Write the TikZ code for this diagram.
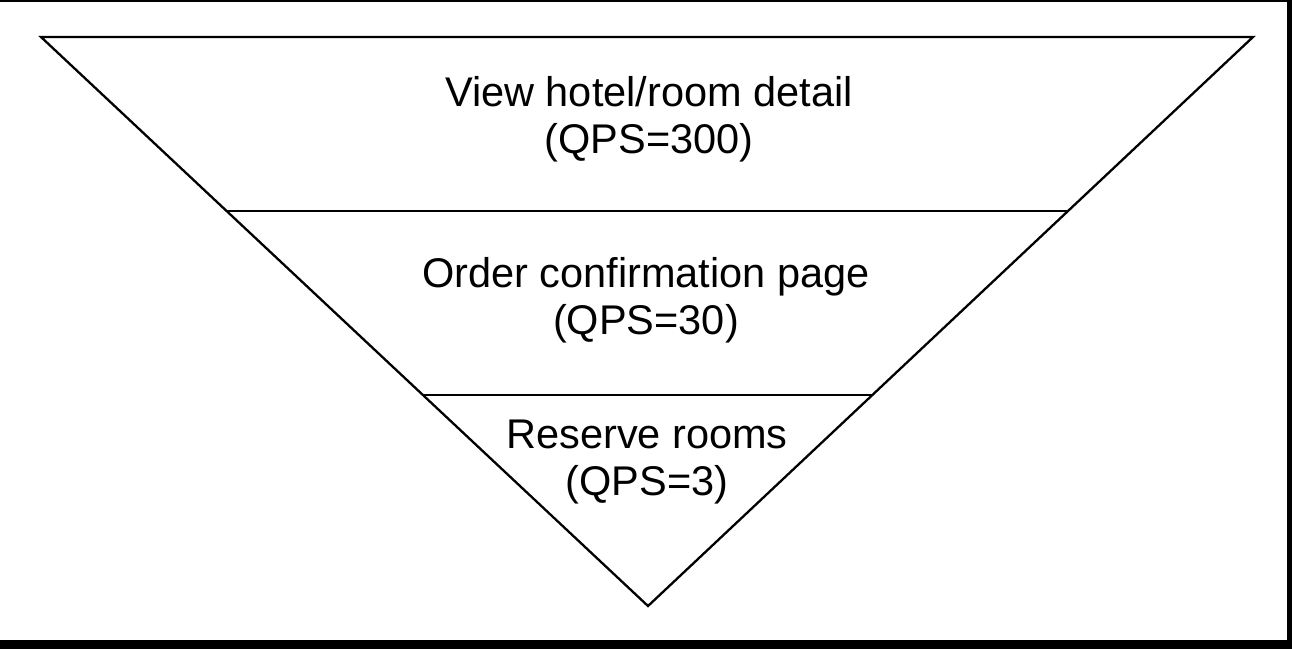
\documentclass[tikz,border=0pt]{standalone}
\usepackage{fontspec}
\setmainfont{Liberation Sans}
\begin{document}
\begin{tikzpicture}[x=1pt,y=-1pt,
  edge/.style={line width=2.3pt,line join=miter},
  label/.style={align=center,inner sep=0pt,font=\fontsize{41.5}{47}\selectfont}]
\useasboundingbox (0,0) rectangle (1292,649);
\fill[white] (0,0) rectangle (1292,649);
% frame
\fill[black] (0,0) rectangle (1292,1.5);
\fill[black] (0,640) rectangle (1292,649);
\fill[black] (1287,0) rectangle (1292,649);
% funnel
\coordinate (tl) at (41,37);
\coordinate (tr) at (1253,37);
\coordinate (ap) at (648,606);
\coordinate (l1) at (226.6,211);
\coordinate (r1) at (1068,211);
\coordinate (l2) at (423,395);
\coordinate (r2) at (872,395);
\draw[edge] (tl) -- (tr) -- (ap) -- cycle;
\draw[edge] (l1) -- (r1);
\draw[edge] (l2) -- (r2);
\node[label] (t1) at (649,119.5) {View hotel/room detail\\(QPS=300)};
\node[label] (t2) at (646,300.5) {Order confirmation page\\(QPS=30)};
\node[label] (t3) at (647,462.5) {Reserve rooms\\(QPS=3)};
\end{tikzpicture}
\end{document}
